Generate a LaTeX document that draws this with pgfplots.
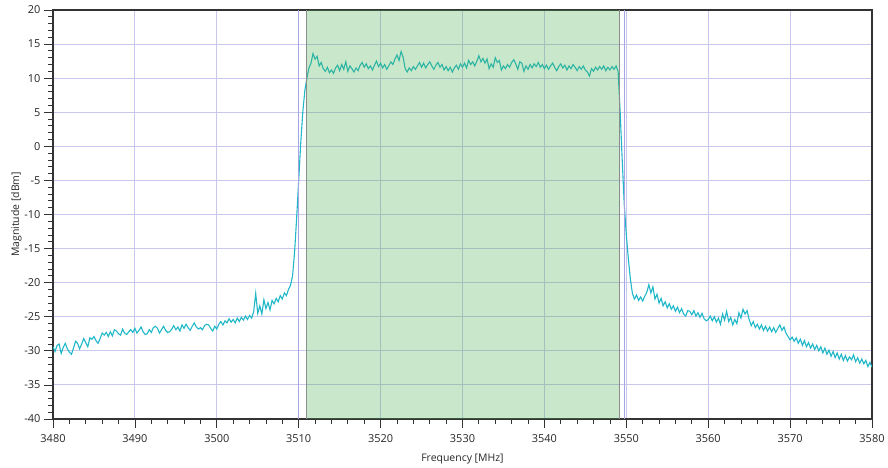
\documentclass[border=0pt]{standalone}
\usepackage{fontspec}
\setmainfont{Open Sans}
\usepackage{pgfplots}
\usepackage{pgfplotstable}
\pgfplotsset{compat=1.18}
\definecolor{gridc}{RGB}{200,200,238}
\definecolor{trace}{RGB}{32,184,200}
\definecolor{band}{RGB}{76,175,80}
\definecolor{edgec}{RGB}{165,165,228}

\pgfplotstableread{
x y
3480.00 -29.4
3480.25 -30.1
3480.50 -29.2
3480.75 -29.0
3481.00 -30.4
3481.25 -29.5
3481.50 -28.9
3481.75 -29.7
3482.00 -30.2
3482.25 -30.5
3482.50 -29.6
3482.75 -28.6
3483.00 -28.9
3483.25 -29.7
3483.50 -29.0
3483.75 -28.2
3484.00 -28.8
3484.25 -29.4
3484.50 -28.1
3484.75 -28.3
3485.00 -27.9
3485.25 -28.5
3485.50 -28.9
3485.75 -28.2
3486.00 -27.4
3486.25 -27.7
3486.50 -27.3
3486.75 -27.9
3487.00 -27.2
3487.25 -27.8
3487.50 -26.9
3487.75 -27.1
3488.00 -27.5
3488.25 -27.7
3488.50 -26.8
3488.75 -27.4
3489.00 -27.6
3489.25 -27.2
3489.50 -26.9
3489.75 -27.3
3490.00 -26.7
3490.25 -27.4
3490.50 -27.0
3490.75 -26.5
3491.00 -27.2
3491.25 -27.6
3491.50 -27.5
3491.75 -26.9
3492.00 -27.3
3492.25 -26.6
3492.50 -26.4
3492.75 -26.7
3493.00 -27.4
3493.25 -26.9
3493.50 -26.4
3493.75 -27.0
3494.00 -27.3
3494.25 -27.2
3494.50 -26.8
3494.75 -26.3
3495.00 -26.9
3495.25 -26.5
3495.50 -27.1
3495.75 -26.2
3496.00 -26.7
3496.25 -26.1
3496.50 -26.6
3496.75 -27.0
3497.00 -26.4
3497.25 -25.9
3497.50 -26.5
3497.75 -26.8
3498.00 -26.6
3498.25 -26.9
3498.50 -26.3
3498.75 -26.1
3499.00 -26.2
3499.25 -26.7
3499.50 -27.1
3499.75 -26.4
3500.00 -26.8
3500.25 -26.1
3500.50 -25.7
3500.75 -26.2
3501.00 -25.6
3501.25 -25.9
3501.50 -25.3
3501.75 -25.8
3502.00 -25.4
3502.25 -25.9
3502.50 -25.2
3502.75 -25.7
3503.00 -25.1
3503.25 -25.5
3503.50 -24.9
3503.75 -25.4
3504.00 -24.8
3504.25 -25.2
3504.50 -24.3
3504.75 -21.6
3505.00 -24.5
3505.25 -23.4
3505.50 -24.6
3505.75 -22.5
3506.00 -23.8
3506.25 -22.9
3506.50 -24.0
3506.75 -22.6
3507.00 -23.1
3507.25 -22.3
3507.50 -22.8
3507.75 -21.9
3508.00 -22.4
3508.25 -21.5
3508.50 -21.9
3508.75 -21.0
3509.00 -20.4
3509.25 -19.0
3509.50 -15.5
3509.75 -10.5
3510.00 -5.0
3510.25 0.5
3510.50 5.0
3510.75 8.2
3511.00 10.0
3511.25 11.5
3511.50 12.2
3511.75 13.6
3512.00 12.8
3512.25 13.2
3512.50 11.8
3512.75 12.3
3513.00 11.4
3513.25 11.0
3513.50 11.6
3513.75 10.8
3514.00 11.2
3514.25 10.7
3514.50 11.5
3514.75 11.9
3515.00 11.1
3515.25 12.0
3515.50 11.3
3515.75 12.4
3516.00 11.0
3516.25 11.8
3516.50 11.4
3516.75 10.9
3517.00 11.5
3517.25 11.1
3517.50 11.9
3517.75 12.3
3518.00 11.6
3518.25 12.1
3518.50 11.4
3518.75 11.8
3519.00 11.2
3519.25 11.9
3519.50 12.5
3519.75 11.7
3520.00 12.2
3520.25 11.5
3520.50 12.0
3520.75 11.3
3521.00 11.8
3521.25 12.4
3521.50 12.0
3521.75 12.8
3522.00 13.4
3522.25 12.6
3522.50 13.9
3522.75 13.1
3523.00 11.4
3523.25 10.9
3523.50 11.5
3523.75 11.1
3524.00 11.7
3524.25 11.3
3524.50 11.8
3524.75 12.3
3525.00 11.6
3525.25 12.2
3525.50 11.5
3525.75 12.0
3526.00 12.4
3526.25 11.8
3526.50 11.3
3526.75 11.9
3527.00 12.3
3527.25 11.6
3527.50 12.0
3527.75 11.2
3528.00 11.7
3528.25 11.1
3528.50 11.6
3528.75 10.9
3529.00 11.5
3529.25 11.9
3529.50 11.3
3529.75 12.1
3530.00 11.6
3530.25 12.2
3530.50 11.5
3530.75 12.6
3531.00 12.0
3531.25 12.4
3531.50 11.8
3531.75 12.5
3532.00 13.3
3532.25 12.4
3532.50 12.9
3532.75 12.2
3533.00 12.8
3533.25 11.4
3533.50 12.1
3533.75 11.6
3534.00 13.0
3534.25 12.3
3534.50 12.6
3534.75 11.2
3535.00 11.8
3535.25 11.4
3535.50 12.0
3535.75 11.6
3536.00 12.3
3536.25 12.7
3536.50 12.1
3536.75 11.3
3537.00 12.4
3537.25 12.2
3537.50 11.0
3537.75 11.8
3538.00 11.3
3538.25 12.0
3538.50 11.5
3538.75 12.1
3539.00 11.7
3539.25 12.3
3539.50 11.6
3539.75 12.0
3540.00 11.4
3540.25 11.9
3540.50 11.3
3540.75 11.8
3541.00 12.2
3541.25 11.6
3541.50 11.1
3541.75 11.7
3542.00 12.1
3542.25 11.5
3542.50 11.9
3542.75 11.2
3543.00 11.8
3543.25 11.4
3543.50 12.0
3543.75 11.6
3544.00 11.1
3544.25 11.7
3544.50 11.3
3544.75 11.8
3545.00 11.2
3545.25 10.9
3545.50 10.3
3545.75 11.4
3546.00 11.0
3546.25 11.6
3546.50 11.2
3546.75 11.7
3547.00 11.3
3547.25 11.8
3547.50 11.1
3547.75 11.6
3548.00 11.2
3548.25 11.7
3548.50 11.3
3548.75 11.8
3549.00 11.0
3549.25 5.0
3549.50 -2.0
3549.75 -8.5
3550.00 -13.0
3550.25 -16.5
3550.50 -19.5
3550.75 -21.6
3551.00 -22.4
3551.25 -21.8
3551.50 -22.6
3551.75 -22.1
3552.00 -22.7
3552.25 -22.0
3552.50 -21.4
3552.75 -20.3
3553.00 -21.5
3553.25 -20.6
3553.50 -22.4
3553.75 -21.7
3554.00 -23.0
3554.25 -22.3
3554.50 -23.4
3554.75 -22.8
3555.00 -23.7
3555.25 -23.1
3555.50 -23.9
3555.75 -23.4
3556.00 -24.2
3556.25 -23.6
3556.50 -24.4
3556.75 -23.8
3557.00 -24.6
3557.25 -24.9
3557.50 -24.1
3557.75 -24.2
3558.00 -24.7
3558.25 -24.1
3558.50 -24.9
3558.75 -24.4
3559.00 -25.1
3559.25 -24.5
3559.50 -25.3
3559.75 -25.6
3560.00 -25.4
3560.25 -24.9
3560.50 -25.6
3560.75 -25.0
3561.00 -25.8
3561.25 -25.2
3561.50 -26.1
3561.75 -24.6
3562.00 -25.5
3562.25 -24.2
3562.50 -25.7
3562.75 -25.1
3563.00 -26.2
3563.25 -25.4
3563.50 -26.0
3563.75 -24.4
3564.00 -25.2
3564.25 -23.9
3564.50 -24.6
3564.75 -24.1
3565.00 -25.4
3565.25 -26.3
3565.50 -25.7
3565.75 -26.6
3566.00 -26.1
3566.25 -26.8
3566.50 -26.2
3566.75 -27.0
3567.00 -26.4
3567.25 -27.1
3567.50 -26.5
3567.75 -27.2
3568.00 -26.6
3568.25 -27.3
3568.50 -26.7
3568.75 -26.2
3569.00 -27.0
3569.25 -26.5
3569.50 -27.4
3569.75 -27.9
3570.00 -28.4
3570.25 -28.0
3570.50 -28.6
3570.75 -28.1
3571.00 -28.9
3571.25 -28.3
3571.50 -29.2
3571.75 -28.5
3572.00 -29.4
3572.25 -28.8
3572.50 -29.6
3572.75 -29.0
3573.00 -29.8
3573.25 -29.2
3573.50 -30.0
3573.75 -29.4
3574.00 -30.3
3574.25 -29.6
3574.50 -30.5
3574.75 -29.9
3575.00 -30.8
3575.25 -30.1
3575.50 -31.0
3575.75 -30.3
3576.00 -31.2
3576.25 -30.5
3576.50 -31.4
3576.75 -30.7
3577.00 -31.5
3577.25 -30.9
3577.50 -31.3
3577.75 -30.6
3578.00 -31.6
3578.25 -31.0
3578.50 -31.8
3578.75 -31.2
3579.00 -31.9
3579.25 -31.4
3579.50 -32.3
3579.75 -31.7
3580.00 -32.4
}\spectrum

\begin{document}
\begin{tikzpicture}
\begin{axis}[
  scale only axis,
  width=819bp, height=409bp,
  xmin=3480, xmax=3580, ymin=-40, ymax=20,
  xtick distance=10, ytick distance=5,
  minor x tick num=4, minor y tick num=4,
  tick align=outside,
  major tick length=9bp, minor tick length=5bp,
  xtick pos=bottom, ytick pos=left,
  grid=major,
  major grid style={gridc, line width=0.9bp},
  axis line style={black!80, line width=1.1bp},
  tick style={black!80, line width=0.8bp},
  ticklabel style={font=\fontsize{11}{13}\selectfont, text=black!85},
  xticklabel style={yshift=-3bp},
  /pgf/number format/assume math mode=true,
  /pgf/number format/1000 sep={},
  xlabel={Frequency [MHz]}, ylabel={Magnitude [dBm]},
  label style={font=\fontsize{10.5}{12}\selectfont, text=black!85},
  xlabel style={yshift=-5bp},
  ylabel style={yshift=-4bp},
  clip=true,
]
\addplot[trace, line width=1.1bp] table[x=x, y=y] {\spectrum};
\addplot[draw=none, fill=band, fill opacity=0.3] coordinates {(3510.9,-40) (3549.1,-40) (3549.1,20) (3510.9,20)} -- cycle;
\addplot[edgec, line width=1.4bp] coordinates {(3510.0,-40) (3510.0,20)};
\addplot[edgec, line width=1.4bp] coordinates {(3549.8,-40) (3549.8,20)};
\addplot[black!45, line width=0.8bp] coordinates {(3510.9,-40) (3510.9,20)};
\addplot[black!45, line width=0.8bp] coordinates {(3549.1,-40) (3549.1,20)};
\end{axis}
\pgfresetboundingbox
\path ([shift={(-53bp,-49bp)}]current axis.south west) rectangle ([shift={(16bp,10bp)}]current axis.north east);
\end{tikzpicture}
\end{document}
